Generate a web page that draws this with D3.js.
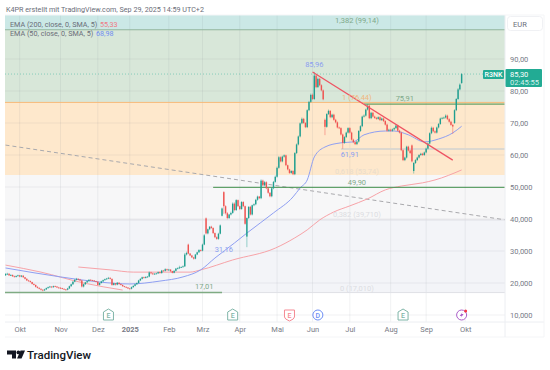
<!DOCTYPE html>
<html>
<head>
<meta charset="utf-8">
<script src="https://cdnjs.cloudflare.com/ajax/libs/d3/7.8.5/d3.min.js"></script>
<style>
    html, body { margin: 0; padding: 0; background: #fff; }
    svg { display: block; font-family: Roboto, "Noto Sans", sans-serif; }
    text { fill: #6a6d78; }
</style>
</head>
<body>
<div id="chart"></div>
<script>
// one entry per trading day, Sep 2024 - Sep 2025
const opens = [
    22.4,22.8,22.9,22.4,22.5,22.1,21.9,22.2,22.4,22.0,
    22.3,21.8,21.3,20.8,20.6,20.3,19.7,19.4,18.8,18.5,
    18.2,17.9,17.7,18.0,18.4,18.7,18.9,18.7,19.0,18.9,
    18.6,18.5,18.4,18.2,18.0,17.9,18.3,19.0,19.6,20.4,
    21.0,21.3,21.1,20.8,18.9,19.6,20.2,20.6,21.0,20.9,
    20.8,20.6,20.4,19.4,20.0,20.5,20.9,21.2,21.4,21.6,
    21.3,19.4,19.9,19.5,20.1,19.7,19.4,19.0,18.8,18.6,
    18.3,18.2,18.7,19.1,19.6,20.0,20.8,21.3,21.8,21.6,
    21.9,22.0,23.3,23.0,22.8,22.9,23.0,23.4,23.1,23.9,
    23.8,24.3,24.0,24.2,23.7,23.2,23.8,24.5,24.6,24.9,
    25.0,25.2,28.9,32.0,29.2,28.6,28.0,27.6,28.9,29.6,
    30.3,30.1,32.0,40.2,35.5,36.8,37.6,37.2,35.6,34.3,
    33.8,35.4,41.0,48.4,44.0,41.8,40.3,41.4,41.9,44.8,
    42.8,45.9,44.0,43.1,45.3,44.0,34.5,40.3,43.8,41.4,
    44.3,44.6,46.0,47.0,46.5,52.0,50.5,51.5,49.6,48.2,
    47.1,49.6,51.6,53.2,56.0,59.3,58.0,59.5,59.9,56.8,
    55.5,54.4,55.0,54.0,60.6,63.3,65.8,69.9,71.3,70.0,
    68.7,74.0,76.6,78.8,77.5,84.8,81.2,83.8,81.8,80.2,
    71.0,68.8,72.8,73.8,71.8,72.6,71.0,70.2,68.6,68.4,
    66.4,63.8,65.6,67.0,68.4,67.0,64.8,64.0,63.4,64.2,
    67.5,69.0,72.0,72.3,74.2,75.4,71.5,73.2,72.0,71.6,
    71.3,71.8,70.9,71.4,70.6,69.5,67.6,67.9,67.6,68.0,
    68.4,69.2,67.6,67.0,61.5,58.4,59.2,62.6,61.4,63.0,
    55.0,57.5,58.4,59.2,60.0,60.4,60.0,60.8,62.0,63.6,
    66.8,68.5,67.4,67.0,68.6,69.7,71.4,71.6,71.7,72.3,
    71.2,70.4,69.4,70.0,74.0,77.5,80.5,82.5
];
const closes = [
    22.8,22.9,22.4,22.5,22.1,21.9,22.2,22.4,22.0,22.3,
    21.8,21.3,20.8,20.6,20.3,19.7,19.4,18.8,18.5,18.2,
    17.9,17.7,18.0,18.4,18.7,18.9,18.7,19.0,18.9,18.6,
    18.5,18.4,18.2,18.0,17.9,18.3,19.0,19.6,20.4,21.0,
    21.3,21.1,20.8,18.9,19.6,20.2,20.6,21.0,20.9,20.8,
    20.6,20.4,19.4,20.0,20.5,20.9,21.2,21.4,21.6,21.3,
    19.4,19.9,19.5,20.1,19.7,19.4,19.0,18.8,18.6,18.3,
    18.2,18.7,19.1,19.6,20.0,20.8,21.3,21.8,21.6,21.9,
    22.0,23.3,23.0,22.8,22.9,23.0,23.4,23.1,23.9,23.8,
    24.3,24.0,24.2,23.7,23.2,23.8,24.5,24.6,24.9,25.0,
    25.2,28.9,29.4,29.2,28.6,28.0,27.6,28.9,29.6,30.3,
    30.1,32.0,34.9,35.5,36.8,37.6,37.2,35.6,34.3,33.8,
    35.4,38.0,43.3,44.0,41.8,40.3,41.4,41.9,44.8,42.8,
    45.9,44.0,43.1,45.3,44.0,38.5,40.3,43.8,41.4,44.3,
    44.6,46.0,47.0,46.5,52.0,50.5,51.5,49.6,48.2,47.1,
    49.6,51.6,53.2,56.0,59.3,58.0,59.5,59.9,56.8,55.5,
    54.4,55.0,54.0,60.6,63.3,65.8,69.9,71.3,70.0,68.7,
    74.0,76.6,78.8,77.5,84.8,81.2,83.8,81.8,80.2,77.4,
    68.8,72.8,73.8,71.8,72.6,71.0,70.2,68.6,68.4,66.4,
    63.8,65.6,67.0,68.4,67.0,64.8,64.0,63.4,64.2,67.5,
    69.0,72.0,72.3,74.2,75.4,71.5,73.2,72.0,71.6,71.3,
    71.8,70.9,71.4,70.6,69.5,67.6,67.9,67.6,68.0,68.4,
    69.2,67.6,67.0,61.5,58.4,59.2,62.6,61.4,60.6,58.0,
    57.5,58.4,59.2,60.0,60.4,60.0,60.8,62.0,63.6,66.8,
    68.5,67.4,67.0,68.6,69.7,71.4,71.6,71.7,72.3,71.2,
    70.4,69.4,68.9,74.0,77.5,80.5,82.0,85.3
];
const highs = [
    23.1,23.2,23.0,22.8,22.7,22.3,22.4,22.6,22.5,22.5,
    22.4,21.9,21.5,21.0,20.8,20.4,19.9,19.5,19.0,18.6,
    18.3,18.0,18.2,18.6,18.9,19.1,19.0,19.2,19.2,19.0,
    18.8,18.7,18.5,18.3,18.1,18.5,19.2,19.8,20.6,21.2,
    21.6,21.5,21.3,20.9,19.8,20.4,20.8,21.2,21.2,21.0,
    20.9,20.7,20.5,20.2,20.7,21.1,21.4,21.6,21.9,21.8,
    21.4,20.1,20.0,20.3,20.2,19.8,19.5,19.1,18.9,18.7,
    18.4,18.9,19.3,19.8,20.2,21.0,21.5,22.0,22.0,22.1,
    22.2,23.6,23.5,23.2,23.1,23.2,23.6,23.6,24.1,24.1,
    24.6,24.5,24.4,24.3,23.8,24.0,24.7,24.9,25.4,25.2,
    25.5,29.4,29.8,32.3,29.4,28.8,28.2,29.1,29.8,30.6,
    30.5,32.3,35.3,40.5,37.0,37.8,37.9,37.4,35.8,34.6,
    35.7,38.3,43.6,48.7,44.3,42.2,41.6,42.3,45.2,45.2,
    46.2,46.1,44.2,45.6,45.6,44.2,40.5,44.0,44.1,44.5,
    44.9,46.3,47.3,47.2,52.4,52.3,51.9,51.8,49.9,48.4,
    49.9,51.9,53.6,56.4,59.7,59.6,59.8,60.2,60.1,57.0,
    55.7,55.3,55.3,60.9,63.6,66.1,70.2,71.7,71.6,70.3,
    74.3,76.9,79.2,79.2,85.96,85.2,84.2,84.1,82.1,80.5,
    71.4,73.1,74.2,74.0,72.9,72.9,71.3,70.5,68.9,68.7,
    66.7,65.9,67.3,68.7,68.7,67.3,65.1,64.3,64.5,67.8,
    69.3,72.3,72.7,74.5,75.91,75.7,73.5,73.5,72.3,71.9,
    72.1,72.1,71.7,71.7,70.9,69.8,68.2,68.2,68.3,68.7,
    69.5,69.5,67.9,67.3,61.8,59.5,62.9,62.9,61.7,63.3,
    57.8,58.7,59.5,60.3,60.7,60.7,61.1,62.3,63.9,67.1,
    68.9,68.8,67.7,68.9,70.0,71.7,71.9,72.0,72.7,72.6,
    71.5,70.7,69.7,74.3,77.8,80.9,82.4,85.6
];
const lows = [
    22.2,22.5,22.2,22.2,21.9,21.7,21.7,22.0,21.8,21.8,
    21.6,21.1,20.6,20.4,20.1,19.5,19.2,18.6,18.3,18.0,
    17.6,17.4,17.5,17.8,18.2,18.5,18.4,18.5,18.7,18.4,
    18.3,18.2,18.0,17.8,17.6,17.7,18.1,18.8,19.4,20.2,
    20.8,20.8,20.5,18.6,18.6,19.4,20.0,20.4,20.7,20.6,
    20.4,20.2,19.2,19.2,19.8,20.3,20.7,21.0,21.2,21.1,
    19.1,19.2,19.2,19.3,19.4,19.2,18.8,18.6,18.4,18.1,
    18.0,18.0,18.5,18.9,19.4,19.8,20.6,21.1,21.4,21.4,
    21.7,21.8,22.7,22.5,22.6,22.7,22.8,22.9,22.9,23.6,
    23.6,23.8,23.8,23.4,23.0,23.0,23.6,24.3,24.4,24.7,
    24.8,25.0,28.6,29.0,28.4,27.8,27.3,27.4,28.7,29.4,
    29.8,29.9,31.8,35.2,35.2,36.5,36.9,35.3,34.0,33.5,
    33.5,35.2,40.8,41.6,41.4,39.9,40.0,41.1,41.6,42.4,
    42.5,43.7,42.8,42.9,43.7,38.2,31.2,40.0,41.1,41.1,
    44.0,44.3,45.7,46.2,46.2,50.2,50.2,49.3,47.9,46.8,
    46.8,49.3,51.3,52.9,55.7,57.7,57.7,59.2,56.5,55.2,
    54.1,54.1,53.7,53.7,60.3,63.0,65.5,69.6,69.7,68.4,
    68.4,73.7,76.3,77.2,77.2,80.9,81.0,81.5,79.9,77.1,
    66.2,68.5,72.5,71.5,71.5,70.7,69.9,68.3,68.1,66.1,
    61.91,63.5,65.3,66.7,66.7,64.5,63.7,63.1,63.1,63.9,
    67.2,68.7,71.7,72.0,73.9,71.2,71.2,71.7,71.3,71.0,
    71.0,70.6,70.6,70.3,69.2,67.3,67.3,67.3,67.3,67.7,
    68.1,67.3,66.7,61.2,58.1,58.1,58.9,61.1,60.3,57.7,
    54.2,57.2,58.1,58.9,59.7,59.7,59.7,60.5,61.7,63.3,
    66.5,67.1,66.7,66.7,68.3,69.4,71.1,71.3,71.4,70.9,
    70.1,69.1,66.6,69.7,73.7,77.2,80.2,82.2
];

// moving averages, [bar, price]
const ema50 = [[0,24.7],[31,21.9],[53,20.3],[70,19.7],[87,20.6],[100,21.9],[110,24.1],[118,27.8],[129,32.5],[136,35.6],
    [151,41.9],[162,46.9],[166,49.7],[170,52.2],[174,59.4],[180,62.5],[189,63.8],[196,64.1],[202,66.3],[214,67.5],
    [219,67.5],[227,66.3],[236,64.1],[244,65],[252,66.9],[257,68.98]];
const ema200 = [[41,25],[59,24.1],[72,23.4],[91,23.4],[104,23.4],[110,24.1],[128,27.2],[152,30.9],[163,34.1],[170,36.6],
    [177,39.7],[185,42.2],[194,44.1],[204,46.3],[214,49.1],[223,50.3],[235,51.3],[242,52.2],[257,55.33]];
const ema200Old = [[0,25.6],[20,23.4],[44,20],[66,17.8]];

const monthBars = [8, 31, 52, 70, 92, 111, 132, 153, 173, 194, 217, 237, 259];
const monthLabels = ["Okt", "Nov", "Dez", "2025", "Feb", "Mrz", "Apr", "Mai", "Jun", "Jul", "Aug", "Sep", "Okt"];
const priceTicks = [90, 80, 70, 60, 50, 40, 30, 20, 10];
const priceLabels = ["90,00", "80,00", "70,00", "60,00", "50,000", "40,000", "30,000", "20,000", "10,000"];

const fibPrices = [120, 99.14, 76.44, 53.74, 39.71, 17.01];
const fibColors = ["#cbe8e6", "#d8e7d9", "#fee8cc", "#f7f7f8", "#f3f4f8"];

const eventBars = [58, 128, 160, 176, 224, 257];
const eventKinds = ["E", "E", "E", "D", "E", "S"];

const width = 550, height = 370;
const plot = { left: 5, right: 505, top: 15, bottom: 322 };

const svg = d3.select("#chart").append("svg")
    .attr("width", width)
    .attr("height", height);

const xScale = d3.scaleLinear().domain([0, 282]).range([5.5, 506]);
const yScale = d3.scaleLinear().domain([10, 90]).range([315, 59]);

svg.append("clipPath").attr("id", "plotClip").append("rect")
    .attr("x", plot.left).attr("y", plot.top)
    .attr("width", plot.right - plot.left).attr("height", plot.bottom - plot.top);

const chart = svg.append("g").attr("clip-path", "url(#plotClip)");

// fib zones
fibColors.forEach((c, i) => {
    chart.append("rect")
        .attr("x", plot.left)
        .attr("width", plot.right - plot.left)
        .attr("y", yScale(fibPrices[i]))
        .attr("height", yScale(fibPrices[i + 1]) - yScale(fibPrices[i]))
        .attr("fill", c);
});

// grid
monthBars.forEach(b => {
    chart.append("line")
        .attr("x1", xScale(b)).attr("x2", xScale(b))
        .attr("y1", plot.top).attr("y2", plot.bottom)
        .attr("stroke", "#787b86").attr("stroke-opacity", 0.1);
});
priceTicks.forEach(p => {
    chart.append("line")
        .attr("x1", plot.left).attr("x2", plot.right)
        .attr("y1", yScale(p)).attr("y2", yScale(p))
        .attr("stroke", "#787b86").attr("stroke-opacity", 0.1);
});

function hLine(price, fromBar, color, w) {
    chart.append("line")
        .attr("x1", xScale(fromBar)).attr("x2", plot.right)
        .attr("y1", yScale(price)).attr("y2", yScale(price))
        .attr("stroke", color)
        .attr("stroke-width", w);
}

hLine(99.14, -5, "#8fb59d", 1);
hLine(76.44, -5, "#f7b877", 1);
hLine(39.71, -5, "#dcdce2", 1);
chart.append("line")
    .attr("x1", plot.left).attr("x2", plot.right)
    .attr("y1", yScale(17.01)).attr("y2", yScale(17.01))
    .attr("stroke", "#dfe0e6").attr("stroke-width", 1);
hLine(61.91, 189, "#ddd8cf", 2);

// last price dotted line
chart.append("line")
    .attr("x1", plot.left).attr("x2", plot.right)
    .attr("y1", yScale(85.3)).attr("y2", yScale(85.3))
    .attr("stroke", "#22ab94").attr("stroke-opacity", 0.45)
    .attr("stroke-dasharray", "1,2");

// long falling dashed line
chart.append("line")
    .attr("x1", xScale(0)).attr("x2", xScale(282))
    .attr("y1", yScale(63.1)).attr("y2", yScale(39.7))
    .attr("stroke", "#a9a9ad").attr("stroke-width", 1)
    .attr("stroke-dasharray", "4,3");

const emaLine = d3.line()
    .x(d => xScale(d[0]))
    .y(d => yScale(d[1]))
    .curve(d3.curveMonotoneX);

chart.append("path").attr("d", emaLine(ema200Old)).attr("fill", "none").attr("stroke", "#f7a3a8").attr("stroke-width", 1);
chart.append("path").attr("d", emaLine(ema200)).attr("fill", "none").attr("stroke", "#f7a3a8").attr("stroke-width", 1);
chart.append("path").attr("d", emaLine(ema50)).attr("fill", "none").attr("stroke", "#8f9ff2").attr("stroke-width", 1);

// support lines
hLine(75.91, 202, "#3f8f4a", 1);
hLine(49.90, 117, "#3f8f4a", 1);
chart.append("line")
    .attr("x1", plot.left).attr("x2", xScale(122))
    .attr("y1", yScale(17.01)).attr("y2", yScale(17.01))
    .attr("stroke", "#7fab83").attr("stroke-width", 1.5);

// candles
const candles = closes.map((c, i) => ({ i: i, o: opens[i], c: c, h: highs[i], l: lows[i] }));
const upColor = "#1f9e8f", downColor = "#ef5350";

chart.selectAll(".wick")
    .data(candles)
    .enter()
    .append("line")
    .attr("class", "wick")
    .attr("x1", d => xScale(d.i)).attr("x2", d => xScale(d.i))
    .attr("y1", d => yScale(d.h)).attr("y2", d => yScale(d.l))
    .attr("stroke", d => d.c >= d.o ? upColor : downColor)
    .attr("stroke-opacity", 0.45)
    .attr("stroke-width", 1);

chart.selectAll(".body")
    .data(candles)
    .enter()
    .append("rect")
    .attr("class", "body")
    .attr("x", d => xScale(d.i) - 0.7)
    .attr("width", 1.4)
    .attr("y", d => yScale(Math.max(d.o, d.c)))
    .attr("height", d => Math.max(0.8, Math.abs(yScale(d.o) - yScale(d.c))))
    .attr("fill", d => d.c >= d.o ? upColor : downColor);

// falling trend line from the top
chart.append("line")
    .attr("x1", xScale(173)).attr("x2", xScale(252))
    .attr("y1", yScale(85.96)).attr("y2", yScale(58.4))
    .attr("stroke", "#ef5362").attr("stroke-width", 1.2);

// labels on the chart
function note(txt, bar, price, color, anchor) {
    svg.append("text")
        .attr("x", xScale(bar)).attr("y", yScale(price))
        .attr("text-anchor", anchor || "middle")
        .style("font-size", "7.5px")
        .style("fill", color)
        .text(txt);
}
note("1,382 (99,14)", 198, 101.2, "#7fa98a");
note("85,96", 174, 87.6, "#8c9ff0");
note("1 (76,44)", 198, 77.3, "#f2b77f");
note("75,91", 225, 77.0, "#7fa98a");
note("61,91", 194, 59.3, "#8c9ff0");
note("0,618 (53,74)", 198, 54.0, "#e9dccb");
note("49,90", 198, 50.6, "#7fa98a");
note("0,382 (39,710)", 198, 40.5, "#dcdde2");
note("31,16", 123, 29.8, "#8c9ff0");
note("17,01", 112, 18.2, "#7fa98a");
note("0 (17,010)", 198, 17.6, "#dcdde2");

// axes
const xAxis = d3.axisBottom(xScale)
    .tickValues(monthBars)
    .tickFormat((d, i) => monthLabels[i])
    .tickSize(0)
    .tickPadding(3);
const gx = svg.append("g").attr("transform", `translate(0, ${plot.bottom + 2})`).call(xAxis);
gx.select(".domain").remove();
gx.selectAll("text")
    .style("font-size", "7.5px")
    .style("font-family", "Roboto")
    .style("fill", "#787b86")
    .style("font-weight", (d, i) => monthLabels[i] === "2025" ? "700" : "400");

const yAxis = d3.axisRight(yScale)
    .tickValues(priceTicks)
    .tickFormat((d, i) => priceLabels[i])
    .tickSize(0)
    .tickPadding(5);
const gy = svg.append("g").attr("transform", `translate(${plot.right}, 0)`).call(yAxis);
gy.select(".domain").remove();
gy.selectAll("text")
    .style("font-size", "7.5px")
    .style("font-family", "Roboto")
    .style("fill", "#787b86");

// frame
const frame = "#eceef2";
svg.append("line").attr("x1", plot.left).attr("x2", 544).attr("y1", plot.bottom).attr("y2", plot.bottom).attr("stroke", frame);
svg.append("line").attr("x1", plot.left).attr("x2", 544).attr("y1", 337).attr("y2", 337).attr("stroke", "#f4f5f7");
svg.append("line").attr("x1", plot.right).attr("x2", plot.right).attr("y1", plot.top).attr("y2", 337).attr("stroke", frame);
svg.append("line").attr("x1", 544).attr("x2", 544).attr("y1", plot.top).attr("y2", 337).attr("stroke", "#f4f5f7");
svg.append("line").attr("x1", plot.left).attr("x2", 544).attr("y1", plot.top).attr("y2", plot.top).attr("stroke", "#f4f5f7");

svg.append("rect").attr("x", 507.5).attr("y", 16.5).attr("width", 35).attr("height", 14).attr("rx", 3)
    .attr("fill", "#fff").attr("stroke", "#f0f1f4");
svg.append("text").attr("x", 513).attr("y", 26.5).style("font-size", "7.5px").style("fill", "#6a6d78").text("EUR");

// price tags
svg.append("rect").attr("x", 483).attr("y", 70).attr("width", 21).attr("height", 9).attr("rx", 1).attr("fill", "#22ab94");
svg.append("text").attr("x", 493.5).attr("y", 77.3).attr("text-anchor", "middle")
    .style("font-size", "7px").style("font-weight", "500").style("fill", "#fff").text("R3NK");
svg.append("rect").attr("x", 505.5).attr("y", 69).attr("width", 36.5).attr("height", 18).attr("rx", 1).attr("fill", "#22ab94");
svg.append("text").attr("x", 510).attr("y", 76.5).style("font-size", "7.5px").style("fill", "#fff").text("85,30");
svg.append("text").attr("x", 510).attr("y", 85).style("font-size", "7.5px").style("fill", "#d6f1ec").text("02:45:55");

// title and legend
svg.append("text").attr("x", 6).attr("y", 12).style("font-size", "7.2px").style("fill", "#6a6d78")
    .text("K4PR erstellt mit TradingView.com, Sep 29, 2025 14:59 UTC+2");
svg.append("text").attr("x", 10).attr("y", 27).style("font-size", "7.2px").style("fill", "#6a6d78")
    .text("EMA (200, close, 0, SMA, 5)");
svg.append("text").attr("x", 100).attr("y", 27).style("font-size", "7.2px").style("fill", "#ef7b85").text("55,33");
svg.append("text").attr("x", 10).attr("y", 36).style("font-size", "7.2px").style("fill", "#6a6d78")
    .text("EMA (50, close, 0, SMA, 5)");
svg.append("text").attr("x", 96).attr("y", 36).style("font-size", "7.2px").style("fill", "#6f8df0").text("68,98");

// event markers below the candles
const eventColors = { E: "#7fb5a8", D: "#6c8df5", S: "#ab5ec9" };
eventKinds.forEach((k, i) => {
    const ex = xScale(eventBars[i]);
    const g = svg.append("g").attr("transform", `translate(${ex}, 315)`);
    let col = eventColors[k];
    if (i === 2) col = "#f58a94";
    if (k === "D" || k === "S") {
        g.append("circle").attr("r", 5).attr("fill", "#fff").attr("stroke", col);
    } else if (i === 2) {
        g.append("path").attr("d", "M-5,-5H5V2Q5,4 0,6Q-5,4 -5,2Z").attr("fill", "#fff").attr("stroke", col);
    } else {
        g.append("path").attr("d", "M-5,-3L0,-6L5,-3V5H-5Z").attr("fill", "#fff").attr("stroke", col);
    }
    if (k === "S") {
        g.append("path").attr("d", "M1,-3L-2,1H0L-1,3L2,-1H0Z").attr("fill", col);
        g.append("circle").attr("cx", 4).attr("cy", -4).attr("r", 1.5).attr("fill", "#f23645");
    } else {
        g.append("text").attr("text-anchor", "middle").attr("y", 2.5)
            .style("font-size", "7px").style("font-weight", "500").style("fill", col).text(k);
    }
});

// TradingView logo
const logo = svg.append("g").attr("fill", "#131722");
logo.append("path").attr("d", "M7,350.5H16V358.5H12V354.5H7Z");
logo.append("circle").attr("cx", 18.4).attr("cy", 352.4).attr("r", 1.9);
logo.append("path").attr("d", "M20.5,350.5H25L21.5,358.5H17Z");
svg.append("text").attr("x", 27).attr("y", 358.5)
    .style("font-size", "11.5px").style("font-weight", "500").style("fill", "#131722")
    .text("TradingView");
</script>
</body>
</html>
